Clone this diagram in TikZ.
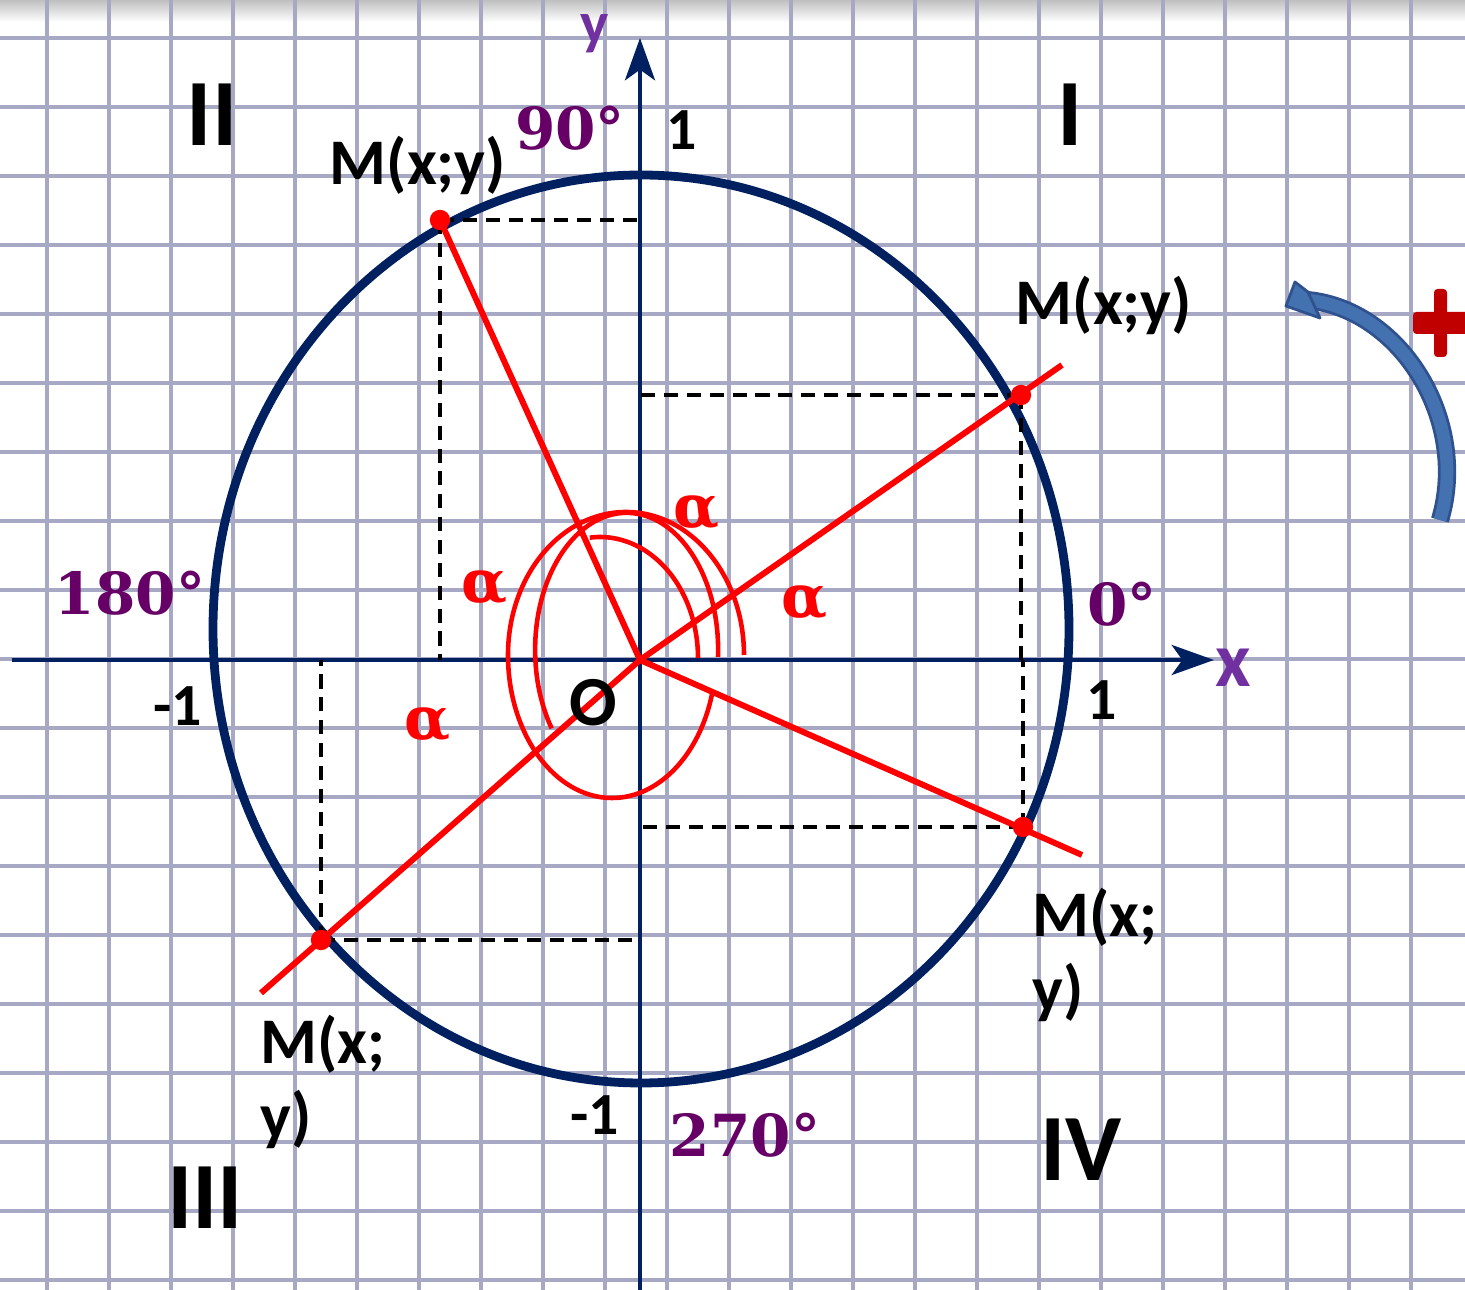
\documentclass[tikz,border=0pt]{standalone}
\usepackage{fontspec}
\setmainfont{Carlito}
\newfontfamily\degfont{DejaVu Serif}
\usetikzlibrary{arrows.meta,calc}
\definecolor{gridrulecol}{RGB}{166,168,196}
\definecolor{axisnavy}{RGB}{0,32,96}
\definecolor{degpurple}{RGB}{102,0,102}
\definecolor{axispurple}{RGB}{112,48,160}
\definecolor{plusred}{RGB}{192,0,0}
\definecolor{turnfill}{RGB}{68,114,176}
\definecolor{turnedge}{RGB}{47,82,143}

\begin{document}
\begin{tikzpicture}[
  x=0.01cm, y=0.01cm,
  gridrule/.style={draw=gridrulecol, line width=0.9pt},
  axis/.style={
    draw=axisnavy,
    line width=1.4pt,
    -{Stealth[length=12pt,width=8.5pt,inset=3pt]}
  },
  unitcircle/.style={draw=axisnavy, line width=2.5pt},
  ray/.style={draw=red, line width=1.7pt},
  anglearc/.style={draw=red, line width=1.3pt},
  proj/.style={draw=black, line width=1pt, dash pattern=on 4pt off 2.5pt},
  dotmark/.style={circle, fill=red, inner sep=0pt, minimum size=5.8pt},
  quadrant/.style={inner sep=0pt, font=\fontsize{27}{30}\selectfont\bfseries},
  pointlabel/.style={inner sep=0pt, align=left,
    font=\fontsize{18.5}{21.5}\selectfont\bfseries},
  ticklabel/.style={inner sep=0pt, font=\fontsize{17}{20}\selectfont\bfseries},
  degree/.style={inner sep=0pt, text=degpurple,
    font=\degfont\fontsize{16.5}{19}\selectfont\bfseries},
  anglelabel/.style={inner sep=0pt, text=red,
    font=\degfont\fontsize{17}{20}\selectfont\bfseries},
  axislabel/.style={inner sep=0pt, text=axispurple,
    font=\fontsize{22}{24}\selectfont\bfseries}
]
\clip (0,0) rectangle (1465,1290);

% Squared paper
\shade[top color=black!25, bottom color=white] (0,1268) rectangle (1465,1290);
\foreach \i in {0,...,22}
  \draw[gridrule] ({47+62*\i},0) -- ++(0,1290);
\foreach \j in {0,...,18}
  \draw[gridrule] (0,{1252-69*\j}) -- ++(1465,0);

% Points on the circle
\coordinate (O) at (640,630);
\coordinate (m-one) at (1021,895);
\coordinate (m-two) at (440,1070);
\coordinate (m-three) at (321,350);
\coordinate (m-four) at (1023,463);
\coordinate (ray-one) at (1062,925);
\coordinate (ray-three) at (261,297);
\coordinate (ray-four) at (1082,435);
\coordinate (x-tip) at (1214,630);
\coordinate (y-tip) at (640,1252);

% Unit circle and axes
\draw[unitcircle] (641,661) ellipse [x radius=428, y radius=454];
\draw[axis] (12,630) -- (x-tip);
\draw[axis] (640,0) -- (y-tip);

% Projections onto the axes
\draw[proj] (m-one) -- (m-one |- O);
\draw[proj] (m-one) -- (m-one -| O);
\draw[proj] (m-two) -- (m-two |- O);
\draw[proj] (m-two) -- (m-two -| O);
\draw[proj] (m-three) -- (m-three |- O);
\draw[proj] (m-three) -- (m-three -| O);
\draw[proj] (m-four) -- (m-four |- O);
\draw[proj] (m-four) -- (m-four -| O);

% Rays from the origin
\draw[ray] (O) -- (ray-one);
\draw[ray] (O) -- (m-two);
\draw[ray] (O) -- (ray-three);
\draw[ray] (O) -- (ray-four);

% Angle arcs, all measured from 0
\draw[anglearc] (698,632)
  arc[start angle=0, end angle=96, x radius=98, y radius=121];
\draw[anglearc] (718,633)
  arc[start angle=-3, end angle=215, x radius=91.5, y radius=137];
\draw[anglearc] (744,635)
  arc[start angle=0, end angle=180, x radius=118, y radius=143]
  arc[start angle=180, end angle=344, x radius=104, y radius=143];

\node[dotmark] (dot-one) at (m-one) {};
\node[dotmark] (dot-two) at (m-two) {};
\node[dotmark] (dot-three) at (m-three) {};
\node[dotmark] (dot-four) at (m-four) {};

% Positive direction
\draw[turnedge, line width=5.2pt] (1440,770)
  .. controls (1470,870) and (1400,982) .. (1306,990);
\draw[turnfill, line width=3.6pt] (1440,770)
  .. controls (1470,870) and (1400,982) .. (1306,990);
\filldraw[fill=turnfill, draw=turnedge, line width=0.8pt, line join=round]
  (1286,984) -- (1295,1008) -- (1308,998) -- (1320,972) -- cycle;
\fill[plusred, rounded corners=1pt] (1413,956) rectangle (1475,978);
\fill[plusred, rounded corners=1pt] (1434,933) rectangle (1447,1001);

% Labels
\node[quadrant] (q-one) at (1070,1175) {I};
\node[quadrant] (q-two) at (212,1175) {II};
\node[quadrant] (q-three) at (205,92) {III};
\node[quadrant] (q-four) at (1081,140) {IV};

\node[pointlabel] (lbl-one) at (1104,985) {M(x;y)};
\node[pointlabel] (lbl-two) at (418,1125) {M(x;y)};
\node[pointlabel] (lbl-three) at (323,208) {M(x;\\y)};
\node[pointlabel] (lbl-four) at (1095,335) {M(x;\\y)};

\node[degree] (deg-0) at (1122,686) {0°};
\node[degree] (deg-90) at (570,1162) {90°};
\node[degree] (deg-180) at (130,697) {180°};
\node[degree] (deg-270) at (745,155) {270°};

\node[ticklabel] (one-x) at (1102,590) {1};
\node[ticklabel] (one-y) at (682,1160) {1};
\node[ticklabel] (minus-x) at (178,584) {-1};
\node[ticklabel] (minus-y) at (595,175) {-1};
\node[ticklabel, font=\fontsize{20}{22}\selectfont\bfseries] (origin) at (593,587) {O};

\node[anglelabel] (alpha-one) at (805,687) {α};
\node[anglelabel] (alpha-two) at (697,777) {α};
\node[anglelabel] (alpha-three) at (485,702) {α};
\node[anglelabel] (alpha-four) at (428,565) {α};

\node[axislabel] (x-name) at (1233,622) {x};
\node[axislabel, font=\fontsize{17}{19}\selectfont\bfseries] (y-name) at (595,1256) {y};
\end{tikzpicture}
\end{document}
